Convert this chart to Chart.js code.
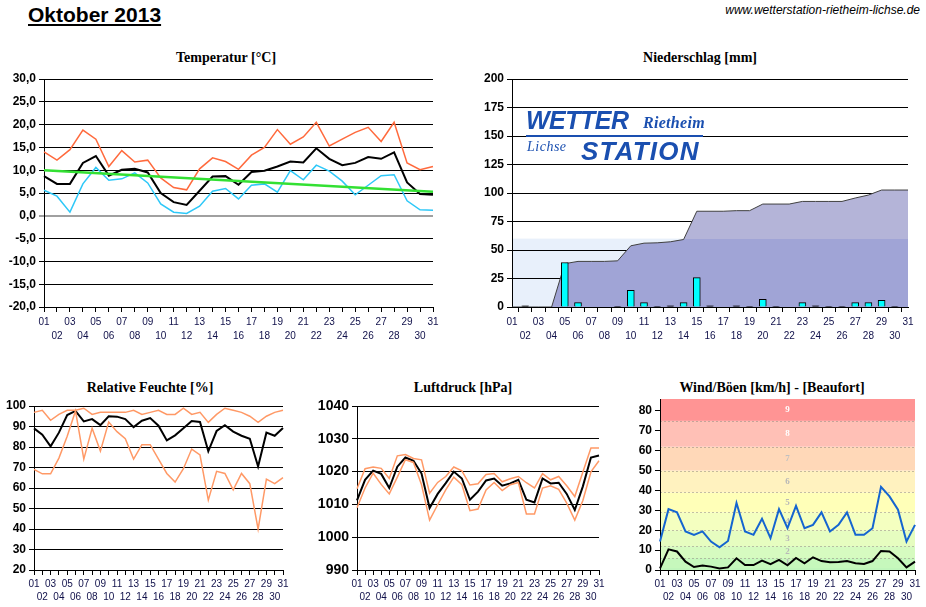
<!DOCTYPE html>
<html>
<head>
<meta charset="utf-8">
<script src="https://cdn.jsdelivr.net/npm/chart.js@4.4.1/dist/chart.umd.min.js"></script>
<style>
  body { margin: 0; background: #fff; width: 926px; height: 607px; overflow: hidden; position: relative; }
  canvas { position: absolute; }
  .ttl { position: absolute; transform: translateX(-50%); white-space: nowrap;
         font: bold 14px "Liberation Serif", serif; line-height: 16px; color: #000; }
  .logo { position: absolute; white-space: nowrap; color: #1a4fb0; z-index: 2; }
</style>
</head>
<body>
<div style="position:absolute;left:28px;top:3px;font:bold 21px 'Liberation Sans',Arial,sans-serif;line-height:24px;text-decoration:underline;">Oktober 2013</div>
<div style="position:absolute;right:6px;top:2px;font:italic 12px 'Liberation Sans',Arial,sans-serif;line-height:16px;">www.wetterstation-rietheim-lichse.de</div>

<div class="ttl" style="left:226px;top:50px;">Temperatur [°C]</div>
<div class="ttl" style="left:700px;top:50px;">Niederschlag [mm]</div>
<div class="ttl" style="left:150px;top:380px;">Relative Feuchte [%]</div>
<div class="ttl" style="left:463px;top:380px;">Luftdruck [hPa]</div>
<div class="ttl" style="left:772px;top:380px;">Wind/Böen [km/h] - [Beaufort]</div>

<div class="logo" style="left:526px;top:106px;font:bold italic 25px 'Liberation Sans',Arial,sans-serif;letter-spacing:-0.5px;">WETTER</div>
<div class="logo" style="left:643px;top:114px;font:italic bold 16px 'Liberation Serif',serif;letter-spacing:0.3px;">Rietheim</div>
<div class="logo" style="left:526px;top:135px;width:177px;height:2px;background:#1a4fb0;"></div>
<div class="logo" style="left:527px;top:139px;font:italic 14px 'Liberation Serif',serif;letter-spacing:0.5px;">Lichse</div>
<div class="logo" style="left:581px;top:136px;font:bold italic 26px 'Liberation Sans',Arial,sans-serif;letter-spacing:1.2px;">STATION</div>

<canvas id="temp" width="450" height="310" style="left:0;top:40px;"></canvas>
<canvas id="rain" width="466" height="310" style="left:460px;top:40px;"></canvas>
<canvas id="hum" width="310" height="237" style="left:0;top:370px;"></canvas>
<canvas id="press" width="300" height="237" style="left:310px;top:370px;"></canvas>
<canvas id="wind" width="316" height="237" style="left:610px;top:370px;"></canvas>

<script>
const days = ['01','02','03','04','05','06','07','08','09','10','11','12','13','14','15','16',
  '17','18','19','20','21','22','23','24','25','26','27','28','29','30','31'];

// Temperatur [°C]
const tempMax = [14.0,12.2,14.5,18.8,16.8,10.8,14.3,11.8,12.2,8.3,6.2,5.7,10.3,12.7,11.9,10.2,
  13.3,15.0,18.9,15.7,17.3,20.5,15.3,16.8,18.3,19.4,16.3,20.5,11.6,10.1,10.8];
const tempMean = [8.7,7.0,7.0,11.6,13.1,8.8,10.1,10.3,9.5,5.0,3.0,2.4,5.5,8.6,8.7,6.8,
  9.6,9.9,10.8,11.9,11.7,14.8,12.5,11.1,11.6,12.9,12.5,13.9,7.3,4.8,4.6];
const tempMin = [5.6,4.3,0.8,7.0,10.6,7.8,8.1,9.4,7.2,2.6,0.8,0.5,2.1,5.4,6.0,3.7,
  6.7,7.0,5.2,9.9,7.9,11.1,9.8,7.6,4.6,6.7,8.8,9.0,3.3,1.3,1.2];
const tempTrend = [10.0,null,null,null,null,null,null,null,null,null,null,null,null,null,null,null,
  null,null,null,null,null,null,null,null,null,null,null,null,null,null,5.3];

// Niederschlag [mm]
const rainDay = [null,1,null,null,39,3.8,null,null,0.5,14.7,3.8,0.5,1,3.8,25.8,1,
  null,1,0.5,6.7,0.5,null,3.8,1,0.5,0.5,3.8,3.8,5.9,0.5,null];
const rainSum = [0,0,0,0,38,40,40,40,40.5,53.7,56,56.3,57.2,59.2,84,84,
  84,84.5,84.5,90.3,90.3,90.3,92.6,92.6,92.6,92.6,95.6,98.2,102.6,102.6,102.6];

// Relative Feuchte [%]
const humMax = [96.9,97.9,93.0,95.9,97.9,97.9,98.9,95.9,96.9,96.9,96.9,96.9,97.9,95.9,96.9,97.9,
  95.9,95.9,98.9,95.9,96.9,92.0,95.9,98.9,97.9,96.9,95.0,92.0,95.0,96.9,97.9];
const humMean = [89.1,86.0,80.3,87.0,95.6,97.6,92.5,93.6,90.7,95.0,94.8,93.6,89.7,92.8,94.1,90.4,
  83.2,85.7,89.1,92.7,92.2,77.9,87.8,90.6,87.5,85.5,84.0,70.5,87.0,85.5,89.3];
const humMin = [69.1,66.9,66.9,74.6,85.2,97.6,74.1,89.1,78.0,92.2,87.5,84.0,74.1,81.1,81.1,74.1,
  67.1,62.9,69.4,79.0,76.1,54.1,68.1,67.1,59.1,67.1,62.1,39.9,64.3,62.1,65.1];

// Luftdruck [hPa]
const pressMax = [1014.8,1020.9,1021.4,1021.0,1017.9,1024.8,1025.2,1024.0,1023.6,1013.4,1016.7,1018.5,
  1021.4,1020.2,1015.9,1016.3,1019.1,1019.4,1016.9,1017.8,1018.5,1016.6,1015.0,1019.4,1017.5,1018.5,
  1015.7,1012.4,1019.9,1027.2,1027.2];
const pressMean = [1011.2,1017.5,1020.3,1019.3,1015.0,1021.5,1024.3,1023.3,1019.4,1008.9,1013.2,1016.5,
  1020.0,1017.9,1011.4,1013.9,1017.3,1017.9,1015.7,1016.4,1017.5,1011.4,1010.6,1017.9,1016.4,1016.6,
  1013.2,1008.3,1015.5,1024.3,1024.9];
const pressMin = [1009.0,1015.0,1019.5,1016.1,1013.2,1018.3,1023.6,1022.8,1016.0,1005.2,1009.9,1014.4,
  1018.3,1016.0,1008.1,1008.6,1014.4,1016.7,1014.2,1016.0,1016.7,1007.1,1007.1,1015.0,1015.7,1014.6,
  1010.4,1005.2,1011.2,1019.9,1023.3];

// Wind/Böen [km/h]
const windGust = [14.3,30.6,29.0,19.4,17.7,19.4,14.3,11.4,14.6,33.7,19.4,17.7,25.8,16.0,30.6,21.0,
  32.3,21.0,22.7,29.0,19.4,22.7,29.0,17.7,17.7,21.0,41.8,37.0,30.3,14.3,22.7];
const windMean = [0.8,10.4,9.3,4.2,1.5,2.2,1.7,0.8,1.3,5.9,2.5,2.5,4.7,2.9,5.1,2.4,
  6.1,3.4,6.4,4.5,3.9,4.0,4.5,3.4,3.0,4.5,9.6,9.3,5.9,1.3,4.2];

// Beaufort-Grenzen [km/h]
const bftLimits = [0, 1, 6, 12, 20, 29, 39, 50, 62, 75, 89];
const bftNames = ['0','1','2','3','4','5','6','7','8','9'];
const bftColors = ['#c0f6bc','#c6f8bc','#d6fbc0','#e6fdc0','#f4ffc0','#ffffb8','#fff2bf','#ffd8b8','#ffc0b6','#ff9494'];
const bftText = ['#c8c8c8','#b8b8b8','#b8b8b8','#b8b8b8','#b8b8b8','#b8b8b8','#b8b8b8','#c0c0c0','#ffffff','#ffffff'];

const sans = "'Liberation Sans', Arial, sans-serif";

function xAxis(height, lineHeight) {
  return {
    type: 'category',
    offset: false,
    grid: { drawOnChartArea: false, drawTicks: true, tickLength: 5, color: '#000' },
    border: { color: '#000', width: 1 },
    ticks: {
      autoSkip: false, maxRotation: 0, minRotation: 0, padding: 3, color: '#10104a',
      font: { family: sans, size: 10, lineHeight: lineHeight },
      callback: (v, i) => i % 2 === 0 ? [days[i], ''] : ['', days[i]]
    },
    afterFit: s => { s.height = height; }
  };
}

function yAxis(width, min, max, step, size, fmt, onArea) {
  return {
    min: min, max: max,
    grid: {
      drawOnChartArea: onArea, drawTicks: true, tickLength: 5,
      color: c => (c.tick && c.tick.value === 0 && min < 0) ? '#a0a0a0' : '#000',
      lineWidth: c => (c.tick && c.tick.value === 0 && min < 0) ? 2 : 1
    },
    border: { color: '#000', width: 1 },
    ticks: {
      stepSize: step, includeBounds: false, padding: 3, color: '#000',
      font: { family: sans, size: size, weight: 'bold' },
      callback: fmt || (v => v)
    },
    afterFit: s => { s.width = width; }
  };
}

function line(data, color, width) {
  return { type: 'line', data: data, borderColor: color, borderWidth: width,
           pointRadius: 0, tension: 0, fill: false, spanGaps: true };
}

const baseOptions = (pad, x, y) => ({
  responsive: false, animation: false, devicePixelRatio: 1,
  layout: { padding: pad },
  plugins: { legend: { display: false }, tooltip: { enabled: false } },
  scales: { x: x, y: y }
});

// Temperatur
new Chart(document.getElementById('temp'), {
  type: 'line',
  data: { labels: days, datasets: [
    line(tempTrend, '#33e033', 2.5),
    line(tempMax, '#ff6a3d', 1.5),
    line(tempMin, '#2ec8f8', 1.5),
    line(tempMean, '#000', 2)
  ] },
  options: baseOptions({ top: 39, right: 17, left: 0, bottom: 0 }, xAxis(43, 1.4),
    yAxis(44, -20, 30, 5, 12, v => v.toFixed(1).replace('.', ','), true))
});

// Niederschlag
const rainBand = {
  id: 'rainBand',
  beforeDraw(chart) {
    const { ctx, chartArea, scales } = chart;
    const y60 = scales.y.getPixelForValue(60);
    ctx.save();
    ctx.fillStyle = '#e8f0fb';
    ctx.fillRect(chartArea.left, y60, chartArea.right - chartArea.left, chartArea.bottom - y60);
    ctx.restore();
  }
};
const rainFill = c => {
  const { chart } = c;
  const { chartArea, scales } = chart;
  if (!chartArea) return '#a0a4d6';
  const y60 = scales.y.getPixelForValue(60);
  const f = (chartArea.bottom - y60) / (chartArea.bottom - chartArea.top);
  const g = chart.ctx.createLinearGradient(0, chartArea.bottom, 0, chartArea.top);
  g.addColorStop(0, '#a0a4d6'); g.addColorStop(f, '#a0a4d6');
  g.addColorStop(f, '#b4b4d8'); g.addColorStop(1, '#b4b4d8');
  return g;
};
const rainY = yAxis(52, 0, 200, 25, 12, null, true);
rainY.z = 1;
new Chart(document.getElementById('rain'), {
  data: { labels: days, datasets: [
    { type: 'bar', data: rainDay, borderColor: '#000', borderWidth: 1, barThickness: 7, order: 0,
      backgroundColor: c => (c.raw !== null && c.raw <= 1) ? '#000' : '#00ffff' },
    { type: 'line', data: rainSum, borderColor: '#404040', borderWidth: 1, pointRadius: 0, tension: 0,
      fill: 'origin', backgroundColor: rainFill, order: 1 }
  ] },
  options: baseOptions({ top: 39, right: 18, left: 0, bottom: 0 }, xAxis(43, 1.4), rainY),
  plugins: [rainBand]
});

// Relative Feuchte
new Chart(document.getElementById('hum'), {
  type: 'line',
  data: { labels: days, datasets: [
    line(humMax, '#ff9966', 1.5),
    line(humMin, '#ff9966', 1.5),
    line(humMean, '#000', 2)
  ] },
  options: baseOptions({ top: 36, right: 27, left: 0, bottom: 0 }, xAxis(37, 1.3),
    yAxis(34, 20, 100, 10, 12, null, true))
});

// Luftdruck
new Chart(document.getElementById('press'), {
  type: 'line',
  data: { labels: days, datasets: [
    line(pressMax, '#ff9966', 1.5),
    line(pressMin, '#ff9966', 1.5),
    line(pressMean, '#000', 2)
  ] },
  options: baseOptions({ top: 36, right: 11, left: 0, bottom: 0 }, xAxis(37, 1.3),
    yAxis(47, 990, 1040, 10, 14, null, true))
});

// Wind/Böen
const bftBands = {
  id: 'bftBands',
  beforeDraw(chart) {
    const { ctx, chartArea, scales } = chart;
    const y = scales.y;
    const w = chartArea.right - chartArea.left;
    ctx.save();
    ctx.beginPath();
    ctx.rect(chartArea.left, chartArea.top, w, chartArea.bottom - chartArea.top);
    ctx.clip();
    for (let i = 0; i < bftNames.length; i++) {
      const yb = y.getPixelForValue(bftLimits[i]);
      const yt = y.getPixelForValue(bftLimits[i + 1]);
      ctx.fillStyle = bftColors[i];
      ctx.fillRect(chartArea.left, yt, w, yb - yt);
    }
    ctx.strokeStyle = 'rgba(150,140,130,0.55)';
    ctx.setLineDash([2, 2]);
    ctx.lineWidth = 1;
    for (let i = 2; i < bftLimits.length - 1; i++) {
      const yy = Math.round(y.getPixelForValue(bftLimits[i])) + 0.5;
      ctx.beginPath(); ctx.moveTo(chartArea.left, yy); ctx.lineTo(chartArea.right, yy); ctx.stroke();
    }
    ctx.setLineDash([]);
    ctx.font = "bold 9px 'Liberation Serif', serif";
    ctx.textAlign = 'center'; ctx.textBaseline = 'middle';
    const cx = (chartArea.left + chartArea.right) / 2;
    for (let i = 1; i < bftNames.length; i++) {
      const top = Math.min(bftLimits[i + 1], y.max);
      ctx.fillStyle = bftText[i];
      ctx.fillText(bftNames[i], cx, y.getPixelForValue((bftLimits[i] + top) / 2));
    }
    ctx.restore();
  }
};
new Chart(document.getElementById('wind'), {
  type: 'line',
  data: { labels: days, datasets: [
    line(windGust, '#1565d0', 2),
    line(windMean, '#000', 2)
  ] },
  options: baseOptions({ top: 29, right: 11, left: 0, bottom: 0 }, xAxis(37, 1.3),
    yAxis(50, 0, 86, 10, 12, null, false)),
  plugins: [bftBands]
});
</script>
</body>
</html>
